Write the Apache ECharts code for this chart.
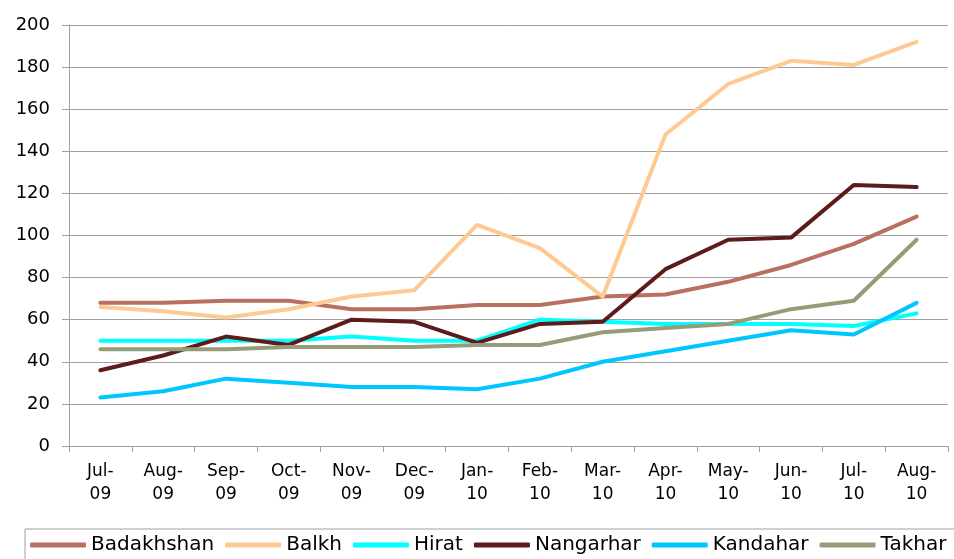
<!DOCTYPE html>
<html>
<head>
<meta charset="utf-8">
<script src="https://cdn.jsdelivr.net/npm/echarts@6/dist/echarts.min.js"></script>
<style>
	html, body { margin: 0; padding: 0; background: #fff; }
	#chart { width: 954px; height: 559px; }
</style>
</head>
<body>
<div id="chart"></div>
<script>
// months, Jul-09 .. Aug-10
const months = ['Jul-\n09', 'Aug-\n09', 'Sep-\n09', 'Oct-\n09', 'Nov-\n09', 'Dec-\n09', 'Jan-\n10',
	'Feb-\n10', 'Mar-\n10', 'Apr-\n10', 'May-\n10', 'Jun-\n10', 'Jul-\n10', 'Aug-\n10'];

const badakhshan = [68, 68, 69, 69, 65, 65, 67, 67, 71, 72, 78, 86, 96, 109];
const balkh      = [66, 64, 61, 65, 71, 74, 105, 94, 71, 148, 172, 183, 181, 192];
const hirat      = [50, 50, 50, 50, 52, 50, 50, 60, 59, 58, 58, 58, 57, 63];
const nangarhar  = [36, 43, 52, 48, 60, 59, 49, 58, 59, 84, 98, 99, 124, 123];
const kandahar   = [23, 26, 32, 30, 28, 28, 27, 32, 40, 45, 50, 55, 53, 68];
const takhar     = [46, 46, 46, 47, 47, 47, 48, 48, 54, 56, 58, 65, 69, 98];

const seriesNames = ['Badakhshan', 'Balkh', 'Hirat', 'Nangarhar', 'Kandahar', 'Takhar'];
const seriesData = [badakhshan, balkh, hirat, nangarhar, kandahar, takhar];
const seriesColors = ['#b9705f', '#ffc993', '#00ffff', '#5c1c1c', '#00c6ff', '#979c78'];

const font = 'DejaVu Sans, Liberation Sans, Arial, sans-serif';

let myChart = echarts.init(document.getElementById('chart'), null, { renderer: 'canvas' });

let option = {
	animation: false,
	color: seriesColors,
	grid: {
		left: 69,
		right: 6,
		top: 25,
		bottom: 113
	},
	legend: {
		left: 25,
		top: 529,
		width: 1200,
		icon: 'roundRect',
		itemWidth: 56,
		itemHeight: 5,
		itemGap: 11,
		padding: [6, 14, 10, 5],
		borderColor: '#a0a0a0',
		borderWidth: 1,
		textStyle: {
			fontFamily: font,
			fontSize: 20,
			color: '#000'
		},
		data: seriesNames
	},
	xAxis: {
		type: 'category',
		data: months,
		boundaryGap: true,
		axisLine: { show: true, lineStyle: { color: '#a0a0a0', width: 1 } },
		axisTick: { show: true, length: 6, interval: 0, lineStyle: { color: '#a0a0a0' } },
		axisLabel: {
			interval: 0,
			margin: 14,
			fontFamily: font,
			fontSize: 17,
			lineHeight: 23,
			color: '#000'
		},
		splitLine: { show: false }
	},
	yAxis: {
		type: 'value',
		min: 0,
		max: 200,
		interval: 20,
		axisLine: { show: true, lineStyle: { color: '#a0a0a0', width: 1 } },
		axisTick: { show: true, length: 7, lineStyle: { color: '#a0a0a0' } },
		axisLabel: {
			margin: 19,
			fontFamily: font,
			fontSize: 18,
			color: '#000'
		},
		splitLine: { show: true, lineStyle: { color: '#a0a0a0', width: 1 } }
	},
	series: seriesNames.map((name, i) => ({
		name: name,
		type: 'line',
		data: seriesData[i],
		symbol: 'none',
		showSymbol: false,
		lineStyle: { width: 4, color: seriesColors[i], cap: 'round', join: 'round' },
		itemStyle: { color: seriesColors[i] }
	}))
};

myChart.setOption(option);
</script>
</body>
</html>
